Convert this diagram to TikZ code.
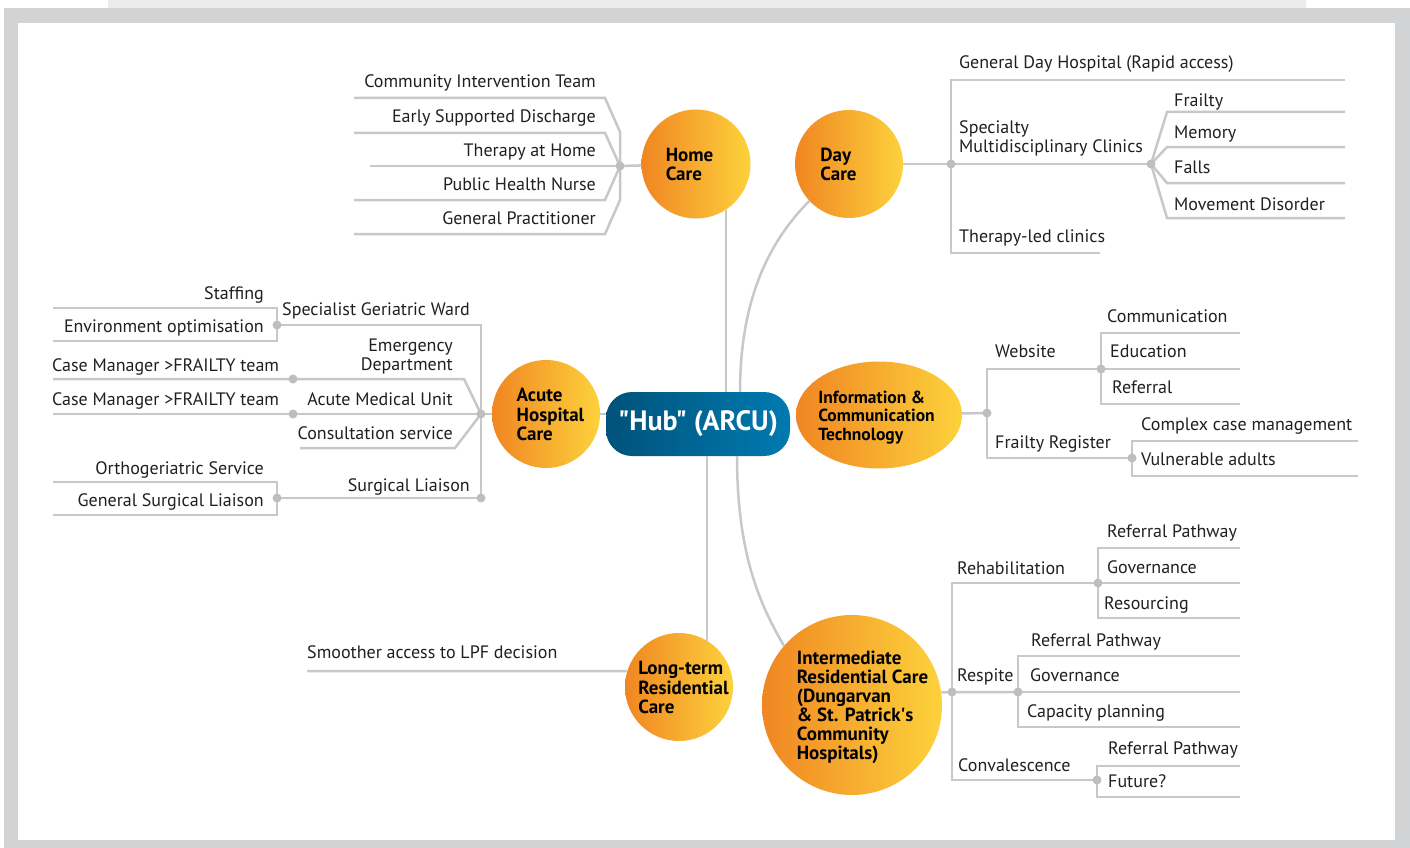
\documentclass[tikz,border=0pt]{standalone}
\usepackage{fontspec}
\setmainfont{PT Sans}
\newfontfamily\rawfont{PT Sans}
\usepackage{tikz}
\usetikzlibrary{shapes.geometric,positioning}
\usepackage{xcolor}
\definecolor{framegrey}{RGB}{209,211,212}
\definecolor{toptint}{RGB}{236,236,236}
\definecolor{linegrey}{RGB}{200,200,200}
\definecolor{dotgrey}{RGB}{190,190,190}
\definecolor{textblack}{RGB}{35,31,32}
\definecolor{hotorange}{RGB}{240,134,34}
\definecolor{paleyellow}{RGB}{253,210,60}
\definecolor{hubdark}{RGB}{0,82,122}
\definecolor{hubblue}{RGB}{0,122,176}
\newcommand{\leaffont}{\fontsize{18}{19}\selectfont}
\newcommand{\topicfont}{\fontsize{19}{18.6}\selectfont\bfseries}
\newcommand{\hubfont}{\rawfont\fontsize{28}{30}\selectfont\bfseries}
% text block of a topic, moved sideways by half of #1
\newcommand{\topiclines}[2]{\makebox[0pt]{\hspace*{#1}\raisebox{-7.5pt}[0pt][0pt]{\begin{tabular}{@{}l@{}}#2\end{tabular}}}}
\tikzstyle{branch} = [line width=2.5pt, color=linegrey]
\tikzstyle{joint} = [circle, fill=dotgrey, inner sep=0, minimum size=9pt]
\tikzstyle{topic} = [left color=hotorange, right color=paleyellow, inner sep=0, font=\topicfont, text=black]
\tikzstyle{leaf} = [inner sep=0, font=\leaffont, text=textblack, align=left]
\tikzstyle{hub} = [rounded corners=26pt, left color=hubdark, right color=hubblue, minimum width=184pt, minimum height=64pt, font=\hubfont, text=white]

\begin{document}
\begin{tikzpicture}[x=1pt, y=-1pt]
\useasboundingbox (0,0) rectangle (1410,848);
% Frame
\fill[toptint] (108,0) rectangle (1306,8);
\fill[framegrey] (4,8) rectangle (1410,848);
\fill[white] (18,23) rectangle (1395,840);

% Hub and topics
\node[hub] (hub) at (698,424) {"Hub" (ARCU)};
\node[topic, circle, minimum size=109pt] (home) at (696,164) {\topiclines{-13pt}{Home\\Care}};
\node[topic, circle, minimum size=108pt] (day) at (849,164) {\topiclines{-21pt}{Day\\Care}};
\node[topic, circle, minimum size=108pt] (acute) at (546,414) {\topiclines{9pt}{Acute\\Hospital\\Care}};
\node[topic, ellipse, minimum width=166pt, minimum height=107pt, font=\fontsize{17.5}{18.6}\selectfont\bfseries] (ict) at (879,415) {\topiclines{-5pt}{Information \&\\Communication\\Technology}};
\node[topic, circle, minimum size=108pt] (long) at (679,687) {\topiclines{9pt}{Long-term\\Residential\\Care}};
\node[topic, circle, minimum size=180pt] (inter) at (852,705) {\topiclines{21pt}{Intermediate\\Residential Care\\(Dungarvan\\\& St. Patrick{\rawfont '}s\\Community\\Hospitals)}};

% Hub connectors
\draw[branch] (home.-57) -- (home.-57 |- hub.north);
\draw[branch] ([xshift=42pt]hub.north) .. controls +(0,-100) and +(-35,35) .. (day.223);
\draw[branch] (acute.east) -- (acute.east -| hub.west);
\draw[branch] (long.59) -- (long.59 |- hub.south);
\draw[branch] ([xshift=39pt]hub.south) .. controls +(0,105) and +(-20,-35) .. (inter.139);

% Home Care
\coordinate (homej) at (620,166);
\draw[branch] (home) -- (homej);
\draw[branch] (354,98) -- (605,98) -- (620,132) -- (620,200) -- (605,234) -- (354,234);
\draw[branch] (354,133) -- (605,133) -- (homej) -- (605,200) -- (354,200);
\draw[branch] (370,166) -- (homej);
\node[joint] at (homej) {};
\node[leaf, anchor=base east] (cit) at (596,88) {Community Intervention Team};
\node[leaf, anchor=base east] (esd) at (596,123) {Early Supported Discharge};
\node[leaf, anchor=base east] (tah) at (596,156) {Therapy at Home};
\node[leaf, anchor=base east] (phn) at (596,190) {Public Health Nurse};
\node[leaf, anchor=base east] (gp) at (596,224) {General Practitioner};

% Day Care
\coordinate (dayj) at (951,164);
\coordinate (clinj) at (1151,164);
\draw[branch] (day) -- (dayj) -- (clinj);
\draw[branch] (1345,80) -- (951,80) -- (951,253) -- (1100,253);
\foreach \y in {112,147,183,218}
  \draw[branch] (clinj) -- (1167,\y) -- (1345,\y);
\node[joint] at (dayj) {};
\node[joint] at (clinj) {};
\node[leaf, anchor=base west] (gdh) at (959,69) {General Day Hospital (Rapid access)};
\node[leaf, anchor=base west] (smc) at (959,153) {Specialty\\Multidisciplinary Clinics};
\node[leaf, anchor=base west] (tlc) at (959,242) {Therapy-led clinics};
\node[leaf, anchor=base west] (frailty) at (1174,107) {Frailty};
\node[leaf, anchor=base west] (memory) at (1174,139) {Memory};
\node[leaf, anchor=base west] (falls) at (1174,173) {Falls};
\node[leaf, anchor=base west] (movd) at (1174,210) {Movement Disorder};

% Acute Hospital Care
\coordinate (acutej) at (481,414);
\draw[branch] (acute) -- (acutej);
\draw[branch] (277,325) -- (481,325) -- (481,498) -- (277,498);
\draw[branch] (53,308) -- (277,308) -- (277,341) -- (53,341);
\draw[branch] (53,379) -- (464,379) -- (acutej);
\draw[branch] (53,414) -- (acutej);
\draw[branch] (300,448) -- (455,448) -- (acutej);
\draw[branch] (53,482) -- (277,482) -- (277,515) -- (53,515);
\node[joint] at (acutej) {};
\node[joint] at (481,498) {};
\node[joint] (sgwj) at (277,325) {};
\node[joint] (edj) at (293,379) {};
\node[joint] (amuj) at (293,414) {};
\node[joint] (slj) at (277,498) {};
\node[leaf, anchor=base east] (staff) at (264,299) {Staffing};
\node[leaf, anchor=base east] (envopt) at (264,332) {Environment optimisation};
\node[leaf, anchor=base east] (sgw) at (470,315) {Specialist Geriatric Ward};
\node[leaf, anchor=base east, align=right] (ed) at (453,370) {Emergency\\Department};
\node[leaf, anchor=base west] (cm1) at (52,371) {Case Manager >FRAILTY team};
\node[leaf, anchor=base west] (cm2) at (52,405) {Case Manager >FRAILTY team};
\node[leaf, anchor=base east] (amu) at (453,405) {Acute Medical Unit};
\node[leaf, anchor=base east] (consult) at (453,439) {Consultation service};
\node[leaf, anchor=base east] (ortho) at (264,474) {Orthogeriatric Service};
\node[leaf, anchor=base east] (gsl) at (264,506) {General Surgical Liaison};
\node[leaf, anchor=base east] (sl) at (470,491) {Surgical Liaison};

% Information & Communication Technology
\coordinate (ictj) at (987,413);
\coordinate (webj) at (1101,369);
\coordinate (frj) at (1132,458);
\draw[branch] (ict) -- (ictj);
\draw[branch] (webj) -- (987,369) -- (987,458) -- (frj);
\draw[branch] (1240,333) -- (1101,333) -- (1101,404) -- (1240,404);
\draw[branch] (webj) -- (1240,369);
\draw[branch] (1358,441) -- (1132,441) -- (1132,476) -- (1358,476);
\node[joint] at (ictj) {};
\node[joint] at (webj) {};
\node[joint] at (frj) {};
\node[leaf, anchor=base west] (web) at (995,357) {Website};
\node[leaf, anchor=base west] (freg) at (995,448) {Frailty Register};
\node[leaf, anchor=base west] (comm) at (1107,322) {Communication};
\node[leaf, anchor=base west] (edu) at (1110,357) {Education};
\node[leaf, anchor=base west] (refl) at (1112,393) {Referral};
\node[leaf, anchor=base west] (ccm) at (1141,430) {Complex case management};
\node[leaf, anchor=base west] (vuln) at (1141,465) {Vulnerable adults};

% Intermediate Residential Care
\coordinate (interj) at (952,692);
\coordinate (rehj) at (1098,583);
\coordinate (resj) at (1018,692);
\coordinate (convj) at (1097,780);
\draw[branch] (inter.8) -- (interj) -- (resj);
\draw[branch] (rehj) -- (952,583) -- (952,780) -- (convj);
\draw[branch] (1240,548) -- (1098,548) -- (1098,618) -- (1240,618);
\draw[branch] (rehj) -- (1240,583);
\draw[branch] (1240,656) -- (1018,656) -- (1018,727) -- (1240,727);
\draw[branch] (resj) -- (1240,692);
\draw[branch] (1240,766) -- (1097,766) -- (1097,797) -- (1240,797);
\node[joint] at (interj) {};
\node[joint] at (rehj) {};
\node[joint] at (resj) {};
\node[joint] at (convj) {};
\node[leaf, anchor=base west] (rehab) at (957,574) {Rehabilitation};
\node[leaf, anchor=base west] (rp1) at (1107,537) {Referral Pathway};
\node[leaf, anchor=base west] (gov1) at (1107,573) {Governance};
\node[leaf, anchor=base west] (resourcing) at (1104,609) {Resourcing};
\node[leaf, anchor=base west] (respite) at (957,681) {Respite};
\node[leaf, anchor=base west] (rp2) at (1031,646) {Referral Pathway};
\node[leaf, anchor=base west] (gov2) at (1030,681) {Governance};
\node[leaf, anchor=base west] (capp) at (1027,717) {Capacity planning};
\node[leaf, anchor=base west] (conv) at (958,771) {Convalescence};
\node[leaf, anchor=base west] (rp3) at (1108,754) {Referral Pathway};
\node[leaf, anchor=base west] (future) at (1108,787) {Future?};

% Long-term Residential Care
\draw[branch] (long.163) -- (307,671);
\node[leaf, anchor=base west] (lpf) at (307,658) {Smoother access to LPF decision};
\end{tikzpicture}
\end{document}
